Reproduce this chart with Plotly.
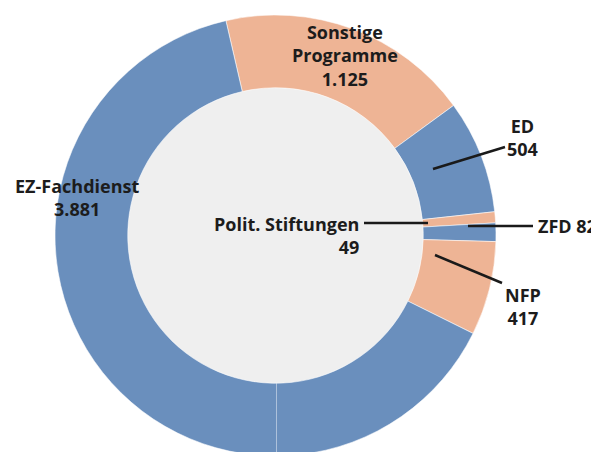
import plotly.graph_objects as go

# ---- data ----
categories = ["Sonstige Programme", "ED", "Polit. Stiftungen", "ZFD", "NFP", "EZ-Fachdienst"]
values = [1125, 504, 49, 82, 417, 3881]
value_labels = ["1.125", "504", "49", "82", "417", "3.881"]
colors = ["#eeb495", "#6a8fbd", "#eeb495", "#6a8fbd", "#eeb495", "#6a8fbd"]

W, H = 599, 452
OFF = 8  # page body margin of the browser
L, T, D = 47, 7, 441
R, B = W - L - D, H - T - D
PW, PH = D, D
CX, CY = L + PW / 2, T + PH / 2
RAD = D / 2
HOLE = 0.67


def px(x):
    return (x - OFF - L) / PW


def py(y):
    return (H - B - (y - OFF)) / PH


fig = go.Figure(go.Pie(
    labels=categories,
    values=values,
    marker=dict(colors=colors, line=dict(color="rgba(255,255,255,0.55)", width=1)),
    hole=HOLE,
    sort=False,
    direction="clockwise",
    rotation=-13,
    textinfo="none",
    hoverinfo="label+value",
    domain=dict(x=[0, 1], y=[0, 1]),
))

# page-coordinate centre of the ring
PCX, PCY = CX + OFF, CY + OFF
ri = RAD * HOLE
shapes = []
shapes.append(dict(type="circle", xref="paper", yref="paper", layer="below",
                   x0=px(PCX - ri), x1=px(PCX + ri), y0=py(PCY + ri), y1=py(PCY - ri),
                   fillcolor="#efefef", line=dict(width=0)))
# faint seam at the bottom of the ring
shapes.append(dict(type="line", xref="paper", yref="paper", layer="above",
                   x0=px(PCX + 1), x1=px(PCX + 1), y0=py(PCY + ri), y1=py(PCY + RAD),
                   line=dict(color="rgba(255,255,255,0.45)", width=1)))

leaders = [
    ((433, 169), (505, 147)),   # ED
    ((364, 223), (428, 223)),   # Polit. Stiftungen
    ((468, 226), (533, 226)),   # ZFD
    ((435, 255), (502, 283)),   # NFP
]
for (x0, y0), (x1, y1) in leaders:
    shapes.append(dict(type="line", xref="paper", yref="paper", layer="above",
                       x0=px(x0), y0=py(y0), x1=px(x1), y1=py(y1),
                       line=dict(color="#1a1a1a", width=2.5)))

FONT = dict(family="Open Sans", size=18, color="#1c1c1c", weight="bold")
annots = [
    (345, 55, "Sonstige<br>Programme<br>" + value_labels[0], "center"),
    (522, 137, categories[1] + "<br>" + value_labels[1], "center"),
    (361, 235, categories[2] + "<br>" + value_labels[2], "right"),
    (536, 226, categories[3] + " " + value_labels[3], "left"),
    (523, 306, categories[4] + "<br>" + value_labels[4], "center"),
    (77, 197, categories[5] + "<br>" + value_labels[5], "center"),
]
annotations = []
for x, y, text, al in annots:
    annotations.append(dict(xref="paper", yref="paper", x=px(x), y=py(y), text=text,
                            showarrow=False, xanchor=al, yanchor="middle", align=al,
                            font=FONT))

fig.update_layout(
    width=W, height=H,
    margin=dict(l=L, r=R, t=T, b=B, autoexpand=False),
    paper_bgcolor="white", plot_bgcolor="white",
    showlegend=False,
    shapes=shapes,
    annotations=annotations,
)

fig.write_html("out.html")
